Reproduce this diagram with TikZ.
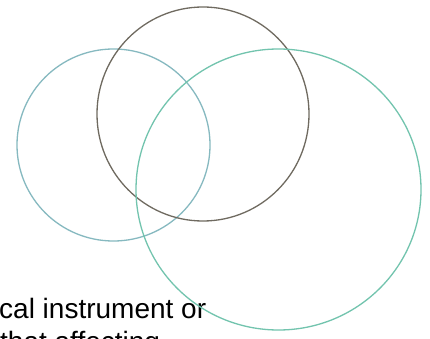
\documentclass[tikz,border=0pt]{standalone}
\usepackage{fontspec}
\setmainfont{Liberation Sans}
\definecolor{leftc}{HTML}{86B9C0}
\definecolor{darkc}{HTML}{6F6A60}
\definecolor{rightc}{HTML}{72C4AE}
\begin{document}
\begin{tikzpicture}[x=1pt,y=-1pt,
  ring/.style={line width=1.3pt},
  txt/.style={anchor=base west,inner sep=0pt,font=\fontsize{28}{32}\selectfont,text=black}]
\useasboundingbox (0,0) rectangle (430,339);
\clip (0,0) rectangle (430,339);
\fill[white] (0,0) rectangle (430,339);
\node[txt] (l1) at (-1,318) {cal instrument or};
\node[txt] (l2) at (0,351) {that affecting};
\draw[ring,leftc] (113.5,145) ellipse [x radius=96.5,y radius=96];
\draw[ring,darkc] (203,114) ellipse [x radius=106,y radius=107];
\draw[ring,rightc] (278.5,189.5) ellipse [x radius=142.5,y radius=140.5];
\end{tikzpicture}
\end{document}
